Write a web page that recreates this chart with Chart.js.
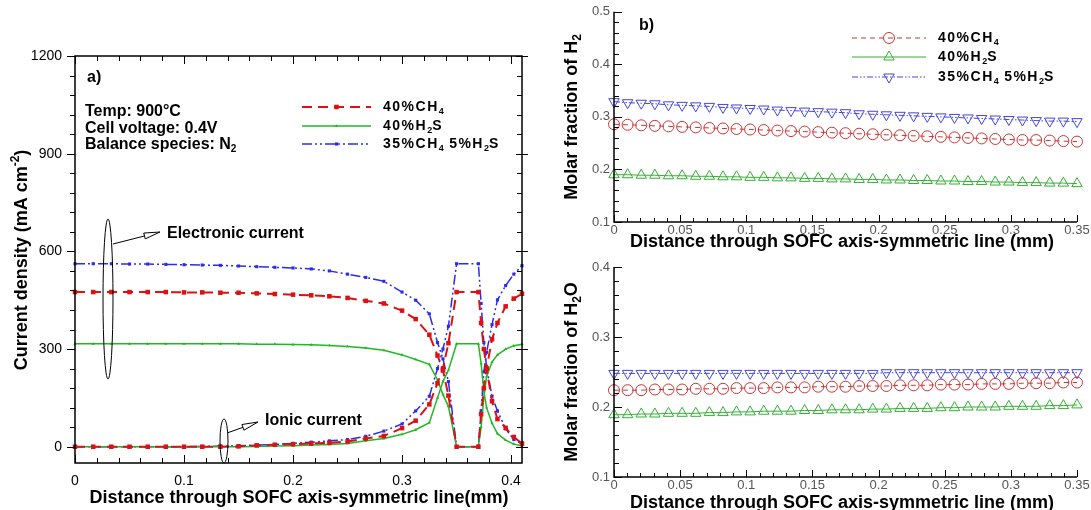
<!DOCTYPE html>
<html>
<head>
<meta charset="utf-8">
<script src="https://cdn.jsdelivr.net/npm/chart.js@4.4.0/dist/chart.umd.min.js"></script>
<style>
  body { margin: 0; background: #fff; }
  #wrap { position: relative; width: 1091px; height: 510px; overflow: hidden; }
  #wrap canvas { position: absolute; }
</style>
</head>
<body>
<div id="wrap">
  <canvas id="currentChart" width="545" height="510" style="left:0;top:0"></canvas>
  <canvas id="h2Chart" width="546" height="255" style="left:545px;top:0"></canvas>
  <canvas id="h2oChart" width="546" height="255" style="left:545px;top:255px"></canvas>
</div>
<script>
// current density through the cell (anode 0-0.35, electrolyte 0.35-0.37, cathode 0.37-0.41)
const xCurrent = [0, 0.0167, 0.0333, 0.05, 0.0667, 0.0833, 0.1, 0.1167, 0.1333, 0.15, 0.1667, 0.1833, 0.2,
  0.2167, 0.2333, 0.25, 0.2667, 0.2833, 0.3, 0.3125, 0.325, 0.3325, 0.3375, 0.3425, 0.35,
  0.37, 0.3725, 0.375, 0.3775, 0.3825, 0.3875, 0.395, 0.4025, 0.41];
const ch4Electronic = [475, 475, 475, 475, 475, 475, 474, 474, 473, 473, 471, 469, 467,
  465, 462, 457, 448, 440, 418, 392, 344, 280, 235, 157, 0,
  0, 100, 180, 240, 330, 380, 431, 455, 470];
const ch4Ionic = [0, 0, 0, 0, 0, 0, 0, 0, 0, 1, 4, 6, 8,
  10, 12, 16, 25, 33, 57, 80, 130, 195, 240, 318, 475,
  475, 380, 300, 240, 140, 85, 58, 30, 10];
const h2sElectronic = [316, 316, 316, 316, 316, 316, 316, 316, 316, 316, 315, 315, 314,
  313, 311, 308, 303, 296, 282, 268, 253, 205, 160, 124, 0,
  0, 60, 150, 215, 260, 282, 300, 310, 315];
const h2sIonic = [0, 0, 0, 0, 0, 0, 0, 0, 0, 0, 1, 2, 3,
  5, 7, 10, 18, 25, 38, 52, 74, 150, 200, 235, 316,
  316, 255, 170, 120, 72, 40, 20, 8, 2];
const mixElectronic = [562, 562, 562, 561, 561, 560, 559, 558, 557, 555, 553, 551, 549,
  546, 540, 530, 520, 508, 475, 450, 408, 320, 270, 200, 0,
  0, 110, 230, 290, 375, 451, 495, 530, 556];
const mixIonic = [0, 0, 0, 0, 0, 0, 0, 1, 2, 3, 5, 7, 10,
  14, 18, 22, 32, 48, 70, 110, 155, 240, 300, 370, 562,
  562, 440, 320, 245, 155, 110, 55, 22, 8];
const currentTicksX = [0, 0.1, 0.2, 0.3, 0.4];
const currentTicksY = [0, 300, 600, 900, 1200];

// molar fractions along the axis-symmetric line
const xFraction = [0, 0.0103, 0.0206, 0.0309, 0.0412, 0.0515, 0.0618, 0.0721, 0.0824, 0.0926,
  0.1029, 0.1132, 0.1235, 0.1338, 0.1441, 0.1544, 0.1647, 0.175, 0.1853, 0.1956,
  0.2059, 0.2162, 0.2265, 0.2368, 0.2471, 0.2574, 0.2676, 0.2779, 0.2882, 0.2985,
  0.3088, 0.3191, 0.3294, 0.3397, 0.35];
const h2Ch4 = [0.286, 0.285, 0.284, 0.283, 0.282, 0.281, 0.280, 0.279, 0.278, 0.277,
  0.276, 0.275, 0.274, 0.273, 0.272, 0.271, 0.270, 0.269, 0.268, 0.267,
  0.266, 0.265, 0.264, 0.263, 0.262, 0.261, 0.260, 0.259, 0.258, 0.257,
  0.256, 0.256, 0.255, 0.254, 0.253];
const h2H2s = [0.190, 0.190, 0.189, 0.189, 0.188, 0.188, 0.187, 0.187, 0.186, 0.186,
  0.185, 0.185, 0.184, 0.184, 0.183, 0.183, 0.182, 0.182, 0.181, 0.181,
  0.180, 0.180, 0.179, 0.179, 0.178, 0.178, 0.177, 0.177, 0.176, 0.176,
  0.175, 0.175, 0.174, 0.174, 0.173];
const h2Mix = [0.329, 0.327, 0.326, 0.325, 0.323, 0.322, 0.321, 0.320, 0.318, 0.317,
  0.316, 0.315, 0.313, 0.312, 0.311, 0.310, 0.309, 0.308, 0.306, 0.305,
  0.304, 0.303, 0.302, 0.301, 0.300, 0.299, 0.298, 0.297, 0.296, 0.295,
  0.294, 0.293, 0.292, 0.292, 0.291];
const h2oCh4 = [0.224, 0.224, 0.224, 0.225, 0.225, 0.225, 0.226, 0.226, 0.226, 0.227,
  0.227, 0.227, 0.228, 0.228, 0.228, 0.229, 0.229, 0.229, 0.230, 0.230,
  0.230, 0.231, 0.231, 0.231, 0.232, 0.232, 0.232, 0.233, 0.233, 0.233,
  0.234, 0.234, 0.234, 0.235, 0.235];
const h2oH2s = [0.189, 0.189, 0.190, 0.190, 0.191, 0.191, 0.191, 0.192, 0.192, 0.193,
  0.193, 0.194, 0.194, 0.194, 0.195, 0.195, 0.196, 0.196, 0.196, 0.197,
  0.197, 0.198, 0.198, 0.198, 0.199, 0.199, 0.200, 0.200, 0.200, 0.201,
  0.201, 0.201, 0.202, 0.202, 0.203];
const h2oMix = [0.248, 0.248, 0.248, 0.248, 0.248, 0.248, 0.248, 0.248, 0.248, 0.248,
  0.248, 0.248, 0.248, 0.248, 0.248, 0.248, 0.248, 0.248, 0.248, 0.248,
  0.249, 0.249, 0.249, 0.249, 0.249, 0.249, 0.249, 0.249, 0.249, 0.249,
  0.249, 0.249, 0.249, 0.249, 0.249];
const fractionTicksX = [0, 0.05, 0.1, 0.15, 0.2, 0.25, 0.3, 0.35];
const h2TicksY = [0.1, 0.2, 0.3, 0.4, 0.5];
const h2oTicksY = [0.1, 0.2, 0.3, 0.4];

const seriesNames = ['40%CH_4', '40%H_2S', '35%CH_4 5%H_2S'];

const FONT = '"Liberation Sans", Arial, Helvetica, sans-serif';
Chart.defaults.font.family = FONT;

const styleA = [
  { color: '#dd1111', width: 2, dash: [10, 6], point: 'rect', radius: 3.2, fill: true },
  { color: '#22b822', width: 1.5, dash: [], point: 'triangle', radius: 1.8, fill: true },
  { color: '#2b2bf0', width: 1.5, dash: [10, 3, 2, 3, 2, 3], point: 'rect', radius: 2.2, fill: true }
];
const styleB = [
  { color: '#cc3333', width: 1, dash: [5, 4], point: 'circle', radius: 5.5, rotation: 0 },
  { color: '#33b033', width: 1, dash: [], point: 'triangle', radius: 6, rotation: 0 },
  { color: '#4545dd', width: 1, dash: [6, 2, 1.5, 2, 1.5, 2], point: 'triangle', radius: 6, rotation: 180 }
];

function series(xs, ys, s) {
  return {
    data: xs.map((x, i) => ({ x: x, y: ys[i] })),
    borderColor: s.color, borderWidth: s.width, borderDash: s.dash,
    pointStyle: s.point, pointRadius: s.radius, pointRotation: s.rotation || 0,
    pointBorderColor: s.color, pointBorderWidth: s.fill ? 0 : 1,
    pointBackgroundColor: s.fill ? s.color : 'rgba(0,0,0,0)',
    fill: false, tension: 0, clip: false
  };
}

function axisX(min, max, ticks, size, color, pad, height) {
  return {
    type: 'linear', min: min, max: max,
    afterBuildTicks: s => { s.ticks = ticks.map(v => ({ value: v })); },
    afterFit: s => { s.height = height; },
    grid: { display: false, drawTicks: false },
    border: { display: false },
    ticks: { font: { size: size, family: FONT }, color: color, padding: pad, maxRotation: 0, autoSkip: false, callback: v => String(v) }
  };
}
function axisY(min, max, ticks, size, color, pad, width) {
  return {
    type: 'linear', min: min, max: max,
    afterBuildTicks: s => { s.ticks = ticks.map(v => ({ value: v })); },
    afterFit: s => { s.width = width; },
    grid: { display: false, drawTicks: false },
    border: { display: false },
    ticks: { font: { size: size, family: FONT }, color: color, padding: pad, autoSkip: false, callback: v => String(v) }
  };
}

function range(from, to, step) {
  const out = [];
  const n = Math.round((to - from) / step);
  for (let i = 0; i <= n; i++) out.push(+(from + i * step).toFixed(6));
  return out;
}

// text with _x / ^{..} sub- and superscripts
function richParts(str) {
  const parts = [];
  const re = /([_^])(\{[^}]*\}|.)/g;
  let last = 0, m;
  while ((m = re.exec(str))) {
    if (m.index > last) parts.push([str.slice(last, m.index), 0]);
    let t = m[2];
    if (t[0] === '{') t = t.slice(1, -1);
    parts.push([t, m[1] === '_' ? -1 : 1]);
    last = re.lastIndex;
  }
  if (last < str.length) parts.push([str.slice(last), 0]);
  return parts;
}

function drawRich(ctx, str, x, y, size, opts) {
  opts = opts || {};
  const weight = opts.weight || 'bold';
  const spacing = opts.spacing || 0;
  const parts = richParts(str);
  const fontFor = lvl => weight + ' ' + (lvl ? Math.round(size * 0.64) : size) + 'px ' + FONT;
  const setPart = p => {
    ctx.font = fontFor(p[1]);
    ctx.letterSpacing = (p[1] ? 0 : spacing) + 'px';
  };
  ctx.save();
  ctx.textBaseline = 'middle';
  ctx.textAlign = 'left';
  ctx.fillStyle = opts.color || '#000';
  let w = 0;
  parts.forEach(p => { setPart(p); w += ctx.measureText(p[0]).width; });
  let cx = opts.align === 'center' ? x - w / 2 : x;
  parts.forEach(p => {
    setPart(p);
    const dy = p[1] === -1 ? size * 0.32 : (p[1] === 1 ? -size * 0.36 : 0);
    ctx.fillText(p[0], cx, y + dy);
    cx += ctx.measureText(p[0]).width;
  });
  ctx.restore();
}

function drawRotated(ctx, str, x, y, size) {
  ctx.save();
  ctx.translate(x, y);
  ctx.rotate(-Math.PI / 2);
  drawRich(ctx, str, 0, 0, size, { align: 'center' });
  ctx.restore();
}

function marker(ctx, s, x, y) {
  const r = s.radius;
  ctx.save();
  ctx.fillStyle = s.color;
  ctx.strokeStyle = s.color;
  ctx.lineWidth = 1;
  ctx.setLineDash([]);
  ctx.beginPath();
  if (s.point === 'circle') {
    ctx.arc(x, y, r, 0, Math.PI * 2);
  } else if (s.point === 'rect') {
    const h = r * Math.SQRT1_2;
    ctx.rect(x - h, y - h, 2 * h, 2 * h);
  } else {
    const rot = (s.rotation || 0) * Math.PI / 180;
    for (let k = 0; k < 3; k++) {
      const a = rot + k * 2 * Math.PI / 3;
      const px = x + Math.sin(a) * r, py = y - Math.cos(a) * r;
      if (k === 0) ctx.moveTo(px, py); else ctx.lineTo(px, py);
    }
    ctx.closePath();
  }
  if (s.fill) ctx.fill(); else ctx.stroke();
  ctx.restore();
}

function legendRow(ctx, s, x1, x2, y, label, size, spacing) {
  ctx.save();
  ctx.strokeStyle = s.color;
  ctx.lineWidth = s.width;
  ctx.setLineDash(s.dash);
  ctx.beginPath();
  ctx.moveTo(x1, y);
  ctx.lineTo(x2, y);
  ctx.stroke();
  ctx.restore();
  marker(ctx, s, (x1 + x2) / 2, y);
  drawRich(ctx, label, x2 + 12, y, size, { spacing: spacing });
}

function arrow(ctx, x1, y1, x2, y2) {
  const ang = Math.atan2(y2 - y1, x2 - x1);
  const len = 16, half = 3;
  const bx = x2 - len * Math.cos(ang), by = y2 - len * Math.sin(ang);
  const nx = -Math.sin(ang) * half, ny = Math.cos(ang) * half;
  ctx.beginPath();
  ctx.moveTo(x1, y1);
  ctx.lineTo(bx, by);
  ctx.moveTo(x2, y2);
  ctx.lineTo(bx + nx, by + ny);
  ctx.lineTo(bx - nx, by - ny);
  ctx.closePath();
  ctx.stroke();
}

const currentDecor = {
  id: 'currentDecor',
  afterDraw(chart) {
    const { ctx, chartArea: a } = chart;
    const sx = chart.scales.x, sy = chart.scales.y;
    ctx.save();
    ctx.strokeStyle = '#000';
    ctx.lineWidth = 1.5;
    ctx.strokeRect(a.left, a.top, a.right - a.left, a.bottom - a.top);
    ctx.lineWidth = 1;
    ctx.beginPath();
    range(0, 1200, 60).forEach(v => {
      const p = Math.round(sy.getPixelForValue(v)) + 0.5;
      const major = currentTicksY.includes(v);
      const len = major ? 8 : 5;
      ctx.moveTo(a.left - len, p); ctx.lineTo(a.left, p);
      if (major) { ctx.moveTo(a.right - 6, p); ctx.lineTo(a.right + 6, p); }
      else { ctx.moveTo(a.right - 5, p); ctx.lineTo(a.right, p); }
    });
    range(0, 0.4, 0.02).forEach(v => {
      const p = Math.round(sx.getPixelForValue(v)) + 0.5;
      const len = currentTicksX.includes(v) ? 8 : 5;
      ctx.moveTo(p, a.bottom); ctx.lineTo(p, a.bottom - len);
      ctx.moveTo(p, a.top); ctx.lineTo(p, a.top + len);
    });
    ctx.stroke();

    // callouts for the two current families
    ctx.beginPath();
    ctx.ellipse(108, 299, 5, 80, 0, 0, Math.PI * 2);
    ctx.stroke();
    arrow(ctx, 113, 244, 160, 232);
    ctx.beginPath();
    ctx.ellipse(224, 441, 4, 22, 0, 0, Math.PI * 2);
    ctx.stroke();
    arrow(ctx, 227, 433, 258, 422);
    ctx.restore();

    drawRich(ctx, 'Electronic current', 167, 234, 16);
    drawRich(ctx, 'Ionic current', 265, 421, 16);
    drawRich(ctx, 'a)', 87, 78, 16);
    drawRich(ctx, 'Temp: 900°C', 85, 112, 16);
    drawRich(ctx, 'Cell voltage: 0.4V', 85, 128.5, 16);
    drawRich(ctx, 'Balance species: N_2', 85, 144.5, 16);

    const rows = [107, 126, 144];
    styleA.forEach((s, i) => legendRow(ctx, s, 302, 371, rows[i], seriesNames[i], 14, 1.5));

    drawRich(ctx, 'Distance through SOFC axis-symmetric line(mm)', 299, 498, 18, { align: 'center' });
    drawRotated(ctx, 'Current density (mA cm^{-2})', 22, 260, 18);
  }
};

function fractionDecor(yTicks, yTitle, withLegend, xTitleY) {
  return {
    id: 'fractionDecor',
    afterDraw(chart) {
      const { ctx, chartArea: a } = chart;
      const sx = chart.scales.x, sy = chart.scales.y;
      ctx.save();
      ctx.strokeStyle = '#000';
      ctx.lineWidth = 1.5;
      ctx.beginPath();
      ctx.moveTo(a.left, a.top);
      ctx.lineTo(a.left, a.bottom);
      ctx.lineTo(a.right, a.bottom);
      ctx.stroke();
      ctx.lineWidth = 1;
      ctx.beginPath();
      range(yTicks[0], yTicks[yTicks.length - 1], 0.02).forEach(v => {
        const p = Math.round(sy.getPixelForValue(v)) + 0.5;
        const len = yTicks.includes(v) ? 8 : 5;
        ctx.moveTo(a.left, p); ctx.lineTo(a.left + len, p);
      });
      range(0, 0.35, 0.01).forEach(v => {
        const p = Math.round(sx.getPixelForValue(v)) + 0.5;
        const len = fractionTicksX.includes(v) ? 7 : 4;
        ctx.moveTo(p, a.bottom); ctx.lineTo(p, a.bottom - len);
      });
      ctx.stroke();
      ctx.restore();

      if (withLegend) {
        drawRich(ctx, 'b)', 94, 26, 16);
        const rows = [38, 57, 77];
        styleB.forEach((s, i) => legendRow(ctx, s, 307, 381, rows[i], seriesNames[i], 14, 1.5));
      }
      drawRotated(ctx, yTitle, 27, (a.top + a.bottom) / 2, 18);
      drawRich(ctx, 'Distance through SOFC axis-symmetric line (mm)', 297, xTitleY, 18, { align: 'center' });
    }
  };
}

function baseOptions(padding, scales) {
  return {
    responsive: false, animation: false, devicePixelRatio: 1,
    layout: { padding: padding },
    plugins: { legend: { display: false }, tooltip: { enabled: false } },
    scales: scales
  };
}

new Chart(document.getElementById('currentChart'), {
  type: 'line',
  data: {
    datasets: [
      series(xCurrent, ch4Electronic, styleA[0]),
      series(xCurrent, ch4Ionic, styleA[0]),
      series(xCurrent, h2sElectronic, styleA[1]),
      series(xCurrent, h2sIonic, styleA[1]),
      series(xCurrent, mixElectronic, styleA[2]),
      series(xCurrent, mixIonic, styleA[2])
    ]
  },
  options: baseOptions({ left: 0, right: 23, top: 56, bottom: 0 }, {
    x: axisX(0, 0.41, currentTicksX, 14, '#000', 10, 47),
    y: axisY(-50, 1200, currentTicksY, 14, '#000', 13, 75)
  }),
  plugins: [currentDecor]
});

new Chart(document.getElementById('h2Chart'), {
  type: 'line',
  data: {
    datasets: [
      series(xFraction, h2Ch4, styleB[0]),
      series(xFraction, h2H2s, styleB[1]),
      series(xFraction, h2Mix, styleB[2])
    ]
  },
  options: baseOptions({ left: 0, right: 14, top: 10, bottom: 0 }, {
    x: axisX(0, 0.35, fractionTicksX, 13, '#555', 1, 33),
    y: axisY(0.1, 0.5, h2TicksY, 13, '#555', 4, 69)
  }),
  plugins: [fractionDecor(h2TicksY, 'Molar fraction of H_2', true, 242)]
});

new Chart(document.getElementById('h2oChart'), {
  type: 'line',
  data: {
    datasets: [
      series(xFraction, h2oCh4, styleB[0]),
      series(xFraction, h2oH2s, styleB[1]),
      series(xFraction, h2oMix, styleB[2])
    ]
  },
  options: baseOptions({ left: 0, right: 14, top: 12, bottom: 0 }, {
    x: axisX(0, 0.35, fractionTicksX, 13, '#555', 1, 33),
    y: axisY(0.1, 0.4, h2oTicksY, 13, '#555', 4, 69)
  }),
  plugins: [fractionDecor(h2oTicksY, 'Molar fraction of H_2O', false, 248)]
});
</script>
</body>
</html>
